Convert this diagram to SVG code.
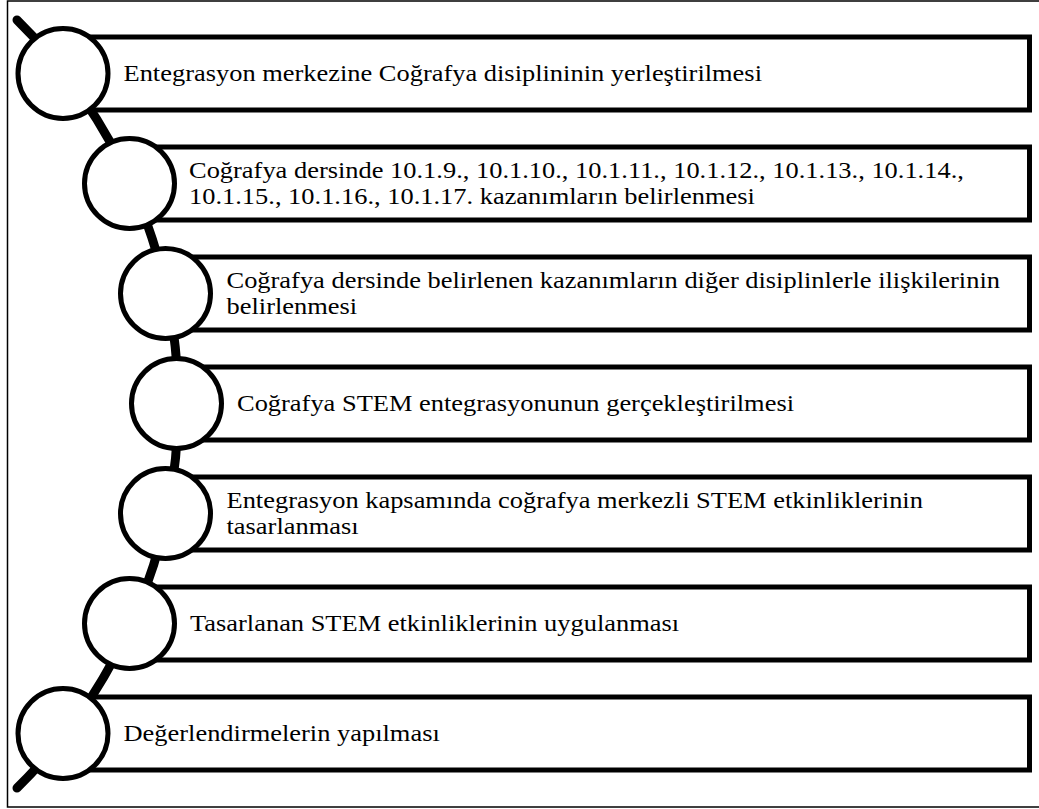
<svg xmlns="http://www.w3.org/2000/svg" width="1039" height="809" viewBox="0 0 1039 809">
  <style>
    .frame{fill:none;stroke:#000;stroke-width:1.5}
    .spine{fill:none;stroke:#000;stroke-width:9;stroke-linecap:round}
    .box{fill:#fff;stroke:#000;stroke-width:5}
    .dot{fill:#fff;stroke:#000;stroke-width:5}
    .lbl{font-family:"Liberation Serif","Times New Roman",serif;font-size:23.4px;fill:#000}
  </style>
  <rect x="0" y="0" width="1039" height="809" fill="#fff"/>
  <rect class="frame" x="7.5" y="1" width="1040" height="806"/>

  <!-- curved spine running behind the step markers -->
  <g id="connectors">
    <path class="spine" d="M 17 20 A 538 538 0 0 1 17 788"/>
  </g>

  <g id="step1">
    <rect class="box" x="63" y="37" width="966.5" height="73"/>
    <circle class="dot" cx="63" cy="73.5" r="45"/>
    <text class="lbl" transform="translate(123.5 81) scale(1.13 1)">Entegrasyon merkezine Coğrafya disiplininin yerleştirilmesi</text>
  </g>
  <g id="step2">
    <rect class="box" x="129.5" y="147" width="900" height="73"/>
    <circle class="dot" cx="129.5" cy="183.5" r="45"/>
    <text class="lbl" transform="translate(189 178) scale(1.13 1)">Coğrafya dersinde 10.1.9., 10.1.10., 10.1.11., 10.1.12., 10.1.13., 10.1.14.,</text>
    <text class="lbl" transform="translate(189 204) scale(1.13 1)">10.1.15., 10.1.16., 10.1.17. kazanımların belirlenmesi</text>
  </g>
  <g id="step3">
    <rect class="box" x="165.5" y="257" width="864" height="73"/>
    <circle class="dot" cx="165.5" cy="293.5" r="45"/>
    <text class="lbl" transform="translate(226.5 288) scale(1.13 1)">Coğrafya dersinde belirlenen kazanımların diğer disiplinlerle ilişkilerinin</text>
    <text class="lbl" transform="translate(226.5 314) scale(1.13 1)">belirlenmesi</text>
  </g>
  <g id="step4">
    <rect class="box" x="176.5" y="367" width="853" height="73"/>
    <circle class="dot" cx="176.5" cy="403.5" r="45"/>
    <text class="lbl" transform="translate(237 411) scale(1.13 1)">Coğrafya STEM entegrasyonunun gerçekleştirilmesi</text>
  </g>
  <g id="step5">
    <rect class="box" x="165.5" y="477" width="864" height="73"/>
    <circle class="dot" cx="165.5" cy="513.5" r="45"/>
    <text class="lbl" transform="translate(226.5 508) scale(1.13 1)">Entegrasyon kapsamında coğrafya merkezli STEM etkinliklerinin</text>
    <text class="lbl" transform="translate(226.5 534) scale(1.13 1)">tasarlanması</text>
  </g>
  <g id="step6">
    <rect class="box" x="129.5" y="587" width="900" height="73"/>
    <circle class="dot" cx="129.5" cy="623.5" r="45"/>
    <text class="lbl" transform="translate(190 631) scale(1.13 1)">Tasarlanan STEM etkinliklerinin uygulanması</text>
  </g>
  <g id="step7">
    <rect class="box" x="63" y="697" width="966.5" height="73"/>
    <circle class="dot" cx="63" cy="733.5" r="45"/>
    <text class="lbl" transform="translate(123.5 741) scale(1.13 1)">Değerlendirmelerin yapılması</text>
  </g>
</svg>
